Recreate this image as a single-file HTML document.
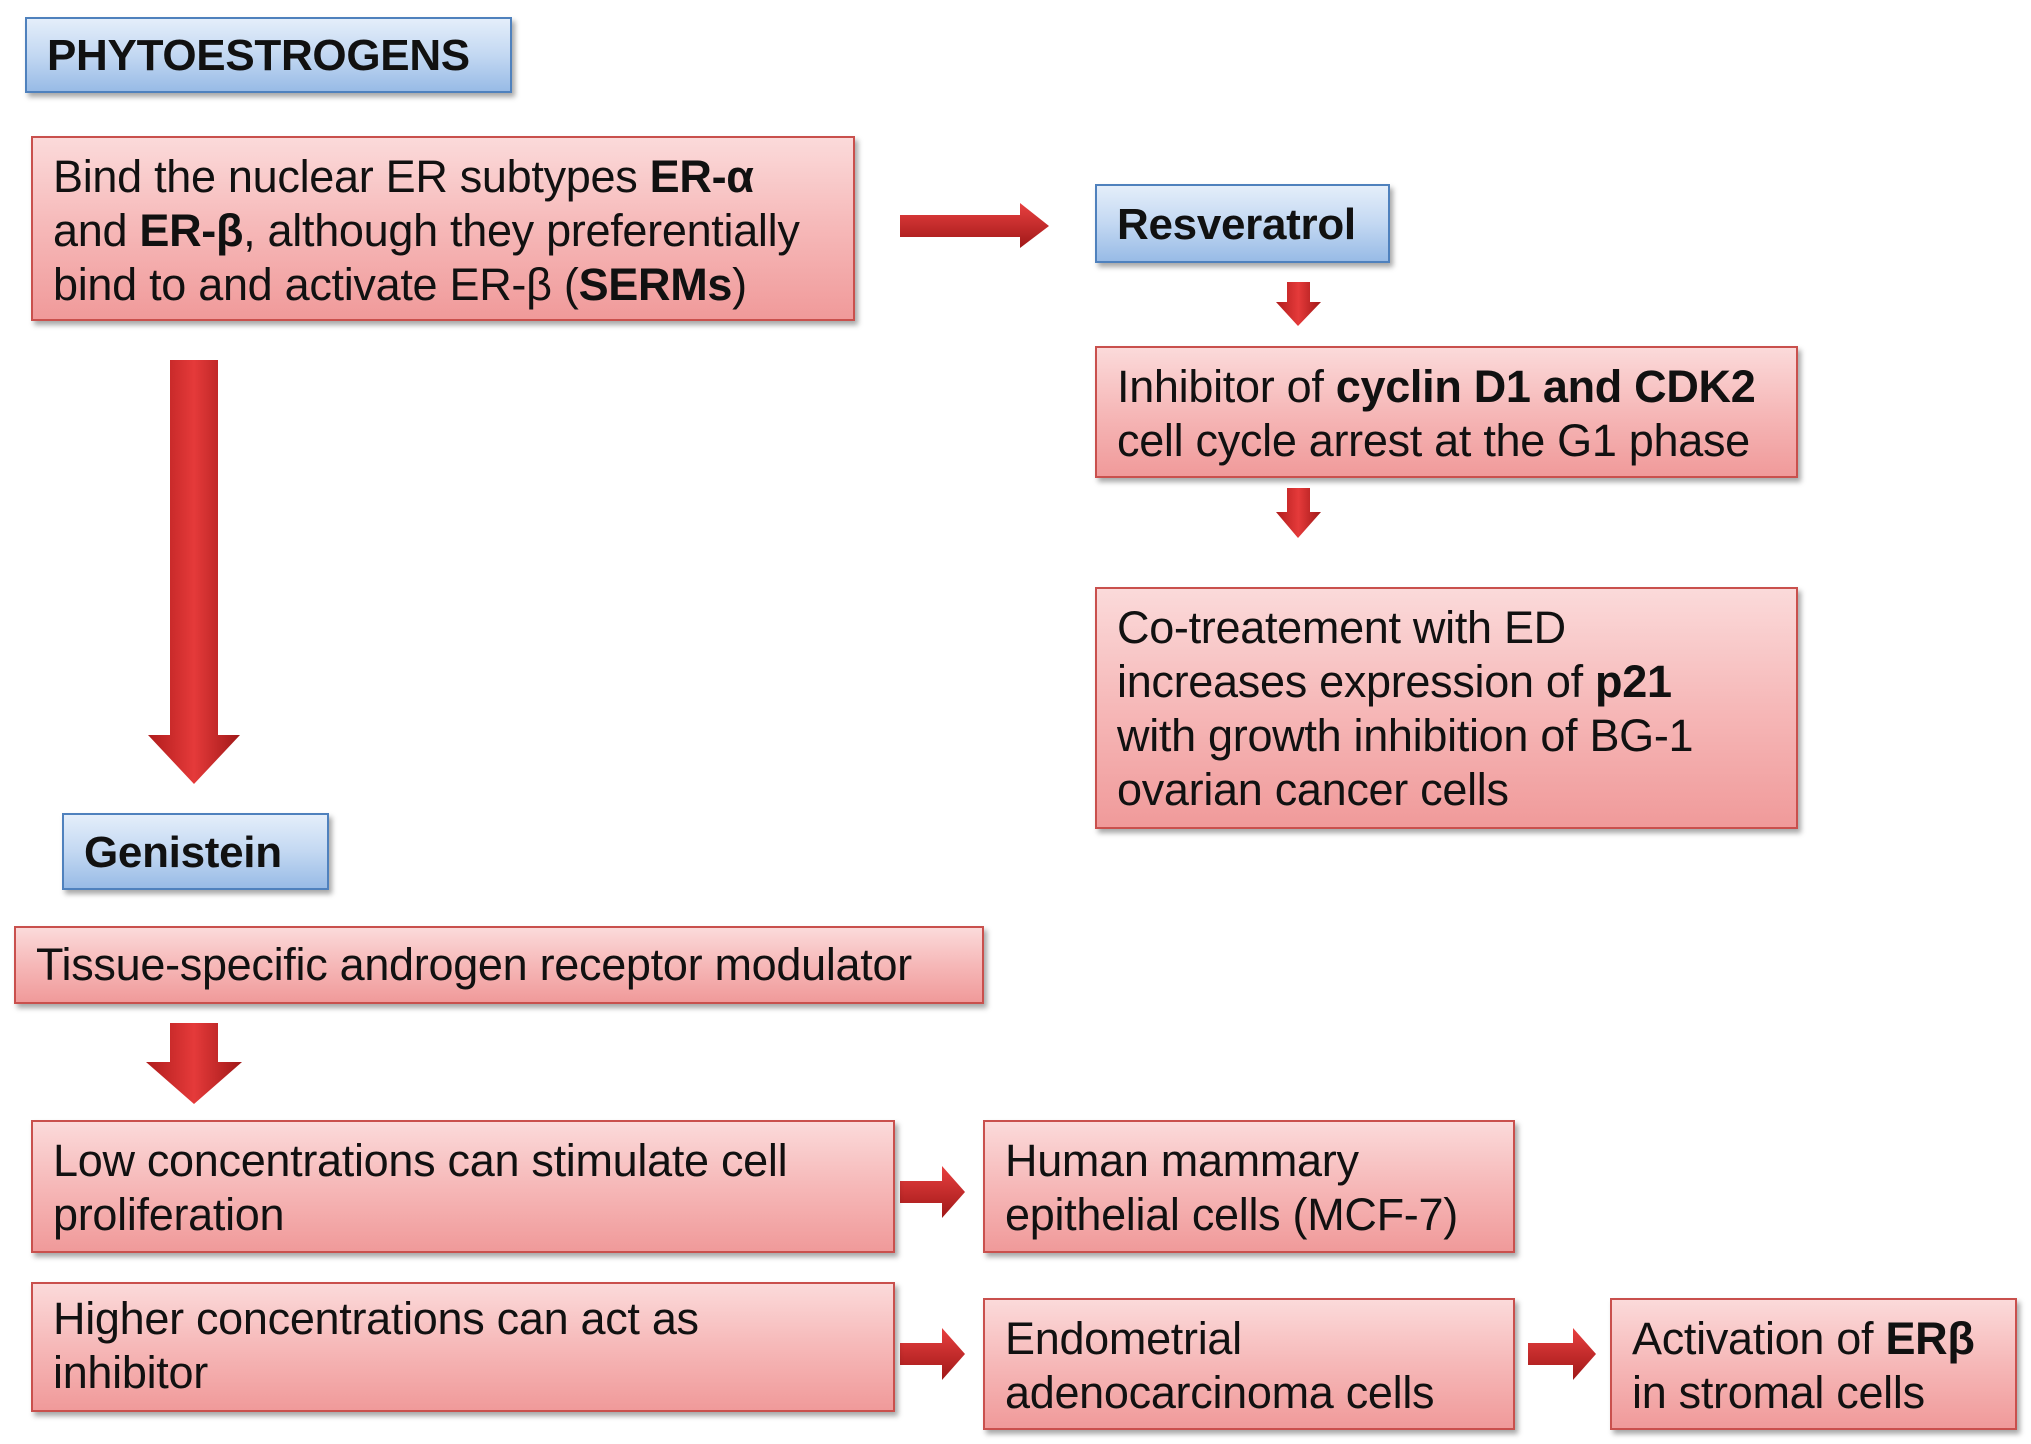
<!DOCTYPE html>
<html><head><meta charset="utf-8"><style>
body{margin:0;width:2031px;height:1444px;background:#fff;position:relative;overflow:hidden;font-family:"Liberation Sans",Arial,sans-serif;}
.b{position:absolute;box-sizing:border-box;font-size:45px;line-height:54px;color:#111;padding:12px 20px;box-shadow:3px 4px 5px rgba(0,0,0,0.35);white-space:nowrap;letter-spacing:-0.3px;}
.p{background:linear-gradient(#fbdada,#f6b8b8 50%,#f09a9a);border:2px solid #c9504d;}
.u{background:linear-gradient(#e4eefa,#c3d8f2 50%,#98bbe6);border:2px solid #4f81bd;font-weight:bold;padding:10px 20px;font-size:44px;}
svg{position:absolute;left:0;top:0;}
</style></head><body>
<svg width="2031" height="1444">
<defs>
<linearGradient id="gv" x1="0" x2="1" y1="0" y2="0"><stop offset="0" stop-color="#b01c1c"/><stop offset="0.5" stop-color="#e53a3a"/><stop offset="1" stop-color="#a01818"/></linearGradient>
<linearGradient id="gh" x1="0" x2="0" y1="0" y2="1"><stop offset="0" stop-color="#e84040"/><stop offset="1" stop-color="#a01818"/></linearGradient>
</defs>
<polygon points="170,360 218,360 218,735 240,735 194,784 148,735 170,735" fill="url(#gv)"/>
<polygon points="170,1023 218,1023 218,1062 242,1062 194,1104 146,1062 170,1062" fill="url(#gv)"/>
<polygon points="1287,282 1310,282 1310,302 1321,302 1298,326 1276,302 1287,302" fill="url(#gv)"/>
<polygon points="1287,488 1310,488 1310,512 1321,512 1298,538 1276,512 1287,512" fill="url(#gv)"/>
<polygon points="900,215 1020,215 1020,203 1049,226 1020,248 1020,237 900,237" fill="url(#gh)"/>
<polygon points="900,1181 942,1181 942,1166 965,1192 942,1218 942,1203 900,1203" fill="url(#gh)"/>
<polygon points="900,1343 942,1343 942,1328 965,1354 942,1380 942,1365 900,1365" fill="url(#gh)"/>
<polygon points="1528,1343 1573,1343 1573,1328 1596,1354 1573,1380 1573,1365 1528,1365" fill="url(#gh)"/>
</svg>
<div class="b u" style="left:25px;top:17px;width:487px;height:76px;">PHYTOESTROGENS</div>
<div class="b p" style="left:31px;top:136px;width:824px;height:185px;">Bind the nuclear ER subtypes <b>ER-α</b><br>and <b>ER-β</b>, although they preferentially<br>bind to and activate ER-β (<b>SERMs</b>)</div>
<div class="b u" style="left:1095px;top:184px;width:295px;height:79px;padding-top:12px;">Resveratrol</div>
<div class="b p" style="left:1095px;top:346px;width:703px;height:132px;">Inhibitor of <b>cyclin D1 and CDK2</b><br>cell cycle arrest at the G1 phase</div>
<div class="b p" style="left:1095px;top:587px;width:703px;height:242px;">Co-treatement with ED<br>increases expression of <b>p21</b><br>with growth inhibition of BG-1<br>ovarian cancer cells</div>
<div class="b u" style="left:62px;top:813px;width:267px;height:77px;padding-top:11px;">Genistein</div>
<div class="b p" style="left:14px;top:926px;width:970px;height:78px;padding-top:10px;">Tissue-specific androgen receptor modulator</div>
<div class="b p" style="left:31px;top:1120px;width:864px;height:133px;">Low concentrations can stimulate cell<br>proliferation</div>
<div class="b p" style="left:983px;top:1120px;width:532px;height:133px;">Human mammary<br>epithelial cells (MCF-7)</div>
<div class="b p" style="left:31px;top:1282px;width:864px;height:130px;padding-top:8px;">Higher concentrations can act as<br>inhibitor</div>
<div class="b p" style="left:983px;top:1298px;width:532px;height:132px;">Endometrial<br>adenocarcinoma cells</div>
<div class="b p" style="left:1610px;top:1298px;width:407px;height:132px;">Activation of <b>ERβ</b><br>in stromal cells</div>
</body></html>
